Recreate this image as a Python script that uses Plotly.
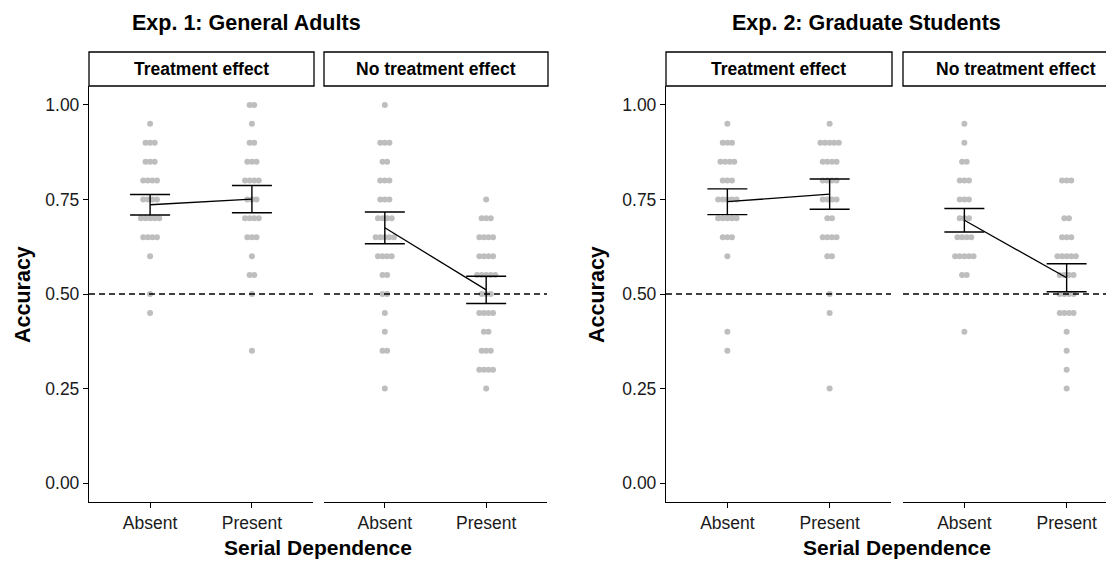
import plotly.graph_objects as go
from collections import Counter, defaultdict

# ---------------- data ----------------
categories = ["Absent", "Present"]
facets = ["Treatment effect", "No treatment effect"]
experiments = ["Exp. 1: General Adults", "Exp. 2: Graduate Students"]
y_ticks = [0.0, 0.25, 0.5, 0.75, 1.0]
chance = 0.5

# individual participant accuracies
exp1_treat_absent = [0.95, 0.90, 0.90, 0.90, 0.85, 0.85, 0.85, 0.80, 0.80, 0.80, 0.80,
                     0.75, 0.75, 0.75, 0.75, 0.70, 0.70, 0.70, 0.70, 0.70,
                     0.65, 0.65, 0.65, 0.65, 0.60, 0.50, 0.45]
exp1_treat_present = [1.00, 1.00, 0.95, 0.90, 0.90, 0.85, 0.85, 0.85, 0.80, 0.80, 0.80, 0.80,
                      0.75, 0.75, 0.75, 0.70, 0.70, 0.70, 0.70, 0.65, 0.65, 0.65,
                      0.60, 0.55, 0.55, 0.50, 0.35]
exp1_none_absent = [1.00, 0.90, 0.90, 0.90, 0.85, 0.85, 0.80, 0.80, 0.80, 0.75, 0.75, 0.75,
                    0.70, 0.70, 0.70, 0.70, 0.65, 0.65, 0.65, 0.65, 0.65,
                    0.60, 0.60, 0.60, 0.60, 0.55, 0.55, 0.50, 0.50, 0.45, 0.40,
                    0.35, 0.35, 0.25]
exp1_none_present = [0.75, 0.70, 0.70, 0.70, 0.65, 0.65, 0.65, 0.65, 0.60, 0.60, 0.60, 0.60,
                     0.55, 0.55, 0.55, 0.55, 0.55, 0.50, 0.50, 0.50, 0.45, 0.45, 0.45, 0.45,
                     0.40, 0.40, 0.35, 0.35, 0.35, 0.30, 0.30, 0.30, 0.30, 0.25]
exp2_treat_absent = [0.95, 0.90, 0.90, 0.90, 0.85, 0.85, 0.85, 0.85, 0.80, 0.80, 0.80,
                     0.75, 0.75, 0.75, 0.75, 0.75, 0.70, 0.70, 0.70, 0.70, 0.70,
                     0.65, 0.65, 0.65, 0.60, 0.40, 0.35]
exp2_treat_present = [0.95, 0.90, 0.90, 0.90, 0.90, 0.90, 0.85, 0.85, 0.85, 0.85,
                      0.80, 0.80, 0.80, 0.80, 0.75, 0.75, 0.75, 0.75, 0.70, 0.70,
                      0.65, 0.65, 0.65, 0.65, 0.60, 0.60, 0.50, 0.45, 0.25]
exp2_none_absent = [0.95, 0.90, 0.85, 0.85, 0.80, 0.80, 0.80, 0.75, 0.75, 0.75,
                    0.70, 0.70, 0.70, 0.65, 0.65, 0.65, 0.65, 0.60, 0.60, 0.60, 0.60, 0.60,
                    0.55, 0.55, 0.40]
exp2_none_present = [0.80, 0.80, 0.80, 0.70, 0.70, 0.65, 0.65, 0.65, 0.60, 0.60, 0.60, 0.60, 0.60,
                     0.55, 0.55, 0.55, 0.55, 0.50, 0.50, 0.50, 0.50, 0.45, 0.45, 0.45, 0.45,
                     0.40, 0.35, 0.30, 0.25]

# group means and standard errors (Absent, Present)
exp1_treat_mean = [0.736, 0.751]
exp1_treat_se = [0.027, 0.036]
exp1_none_mean = [0.675, 0.511]
exp1_none_se = [0.042, 0.036]
exp2_treat_mean = [0.744, 0.764]
exp2_treat_se = [0.034, 0.040]
exp2_none_mean = [0.695, 0.543]
exp2_none_se = [0.031, 0.037]

# ---------------- layout constants (screen pixels of the 1114x563 view) ----------------
VIEW_W, VIEW_H = 1114, 563
OFF = 8                      # default page body margin
W, H = VIEW_W - OFF, VIEW_H - OFF
FONT = "Liberation Sans, Arial, sans-serif"
PANEL_PX = [(89, 313), (324, 547), (666, 891), (903, 1128)]
TOP_PX, BOT_PX = 86, 502
STRIP_TOP = 52
YR = [-0.05, 1.05]
DOT_STEP = 0.045


def fx(p):
    return (p - OFF) / W


def fy(p):
    return 1 - (p - OFF) / H


panels = [
    (0, 0, [exp1_treat_absent, exp1_treat_present], exp1_treat_mean, exp1_treat_se),
    (0, 1, [exp1_none_absent, exp1_none_present], exp1_none_mean, exp1_none_se),
    (1, 0, [exp2_treat_absent, exp2_treat_present], exp2_treat_mean, exp2_treat_se),
    (1, 1, [exp2_none_absent, exp2_none_present], exp2_none_mean, exp2_none_se),
]


def spread(vals, center):
    counts = Counter(vals)
    seen = defaultdict(int)
    xs = []
    for v in vals:
        n = counts[v]
        i = seen[v]
        seen[v] += 1
        xs.append(center + (i - (n - 1) / 2) * DOT_STEP)
    return xs


fig = go.Figure()
ydom = [fy(BOT_PX), fy(TOP_PX)]
layout = {}
shapes = []
annotations = []
pos = [1, 2]

for k, (exp_i, fac_i, groups, means, ses) in enumerate(panels):
    xname = "x" if k == 0 else f"x{k + 1}"
    yname = "y" if exp_i == 0 else "y2"
    x0p, x1p = PANEL_PX[k]
    x1c = min(x1p, VIEW_W)
    rng = [0.4, 0.4 + (x1c - x0p) / (x1p - x0p) * 2.2]

    for gi, vals in enumerate(groups):
        fig.add_trace(go.Scatter(
            x=spread(vals, pos[gi]), y=vals, mode="markers", xaxis=xname, yaxis=yname,
            marker=dict(size=6, color="#BEBEBE", line=dict(width=0)),
            showlegend=False, hoverinfo="y"))
    fig.add_trace(go.Scatter(x=pos, y=means, mode="lines", xaxis=xname, yaxis=yname,
                             line=dict(color="black", width=1.3), showlegend=False))
    fig.add_trace(go.Scatter(x=pos, y=means, mode="markers", xaxis=xname, yaxis=yname,
                             marker=dict(size=1, color="rgba(0,0,0,0)"),
                             error_y=dict(type="data", array=ses, visible=True,
                                          color="black", thickness=1.4, width=20),
                             showlegend=False))

    key = "xaxis" if k == 0 else f"xaxis{k + 1}"
    layout[key] = dict(
        domain=[fx(x0p), min(fx(x1c), 1.0)], range=rng, anchor=yname,
        tickmode="array", tickvals=pos, ticktext=categories,
        showline=True, linecolor="black", linewidth=1.3,
        ticks="outside", ticklen=5, tickwidth=1.3, tickcolor="black",
        showgrid=False, zeroline=False,
        tickfont=dict(family=FONT, size=17.5, color="#1a1a1a"), fixedrange=True)

    shapes.append(dict(type="line", xref=f"{xname} domain", yref=yname,
                       x0=0, x1=1, y0=chance, y1=chance,
                       line=dict(color="black", width=1.3, dash="6px,4px"), layer="above"))
    shapes.append(dict(type="rect", xref="paper", yref="paper",
                       x0=fx(x0p), x1=fx(x1p + 1), y0=fy(TOP_PX), y1=fy(STRIP_TOP),
                       line=dict(color="black", width=1.3), fillcolor="white", layer="above"))
    annotations.append(dict(text=f"<b>{facets[fac_i]}</b>", xref="paper", yref="paper",
                            x=fx((x0p + x1p) / 2), y=fy((TOP_PX + STRIP_TOP) / 2),
                            xanchor="center", yanchor="middle", showarrow=False,
                            font=dict(family=FONT, size=17.5, color="black")))

for yname, anchor in [("yaxis", "x"), ("yaxis2", "x3")]:
    layout[yname] = dict(
        domain=ydom, range=YR, anchor=anchor,
        tickmode="array", tickvals=y_ticks, tickformat=".2f",
        showline=True, linecolor="black", linewidth=1.3,
        ticks="outside", ticklen=5, tickwidth=1.3, tickcolor="black",
        showgrid=False, zeroline=False,
        tickfont=dict(family=FONT, size=17.5, color="#1a1a1a"), fixedrange=True)

title_x = [246, 866]
acc_x = [23, 597]
sd_x = [(PANEL_PX[0][0] + PANEL_PX[1][1]) / 2, (PANEL_PX[2][0] + PANEL_PX[3][1]) / 2]
for i in range(2):
    annotations.append(dict(text=f"<b>{experiments[i]}</b>", xref="paper", yref="paper",
                            x=fx(title_x[i]), y=fy(23), xanchor="center", yanchor="middle",
                            showarrow=False, font=dict(family=FONT, size=21.5, color="black")))
    annotations.append(dict(text="<b>Accuracy</b>", xref="paper", yref="paper",
                            x=fx(acc_x[i]), y=fy(295), xanchor="center", yanchor="middle",
                            textangle=-90, showarrow=False,
                            font=dict(family=FONT, size=21.5, color="black")))
    annotations.append(dict(text="<b>Serial Dependence</b>", xref="paper", yref="paper",
                            x=fx(sd_x[i]), y=fy(547), xanchor="center", yanchor="middle",
                            showarrow=False, font=dict(family=FONT, size=21, color="black")))

fig.update_layout(
    width=W, height=H, margin=dict(l=0, r=0, t=0, b=0),
    paper_bgcolor="white", plot_bgcolor="white",
    shapes=shapes, annotations=annotations, showlegend=False,
    font=dict(family=FONT), **layout)

fig.write_html("out.html", config={"displayModeBar": False})
